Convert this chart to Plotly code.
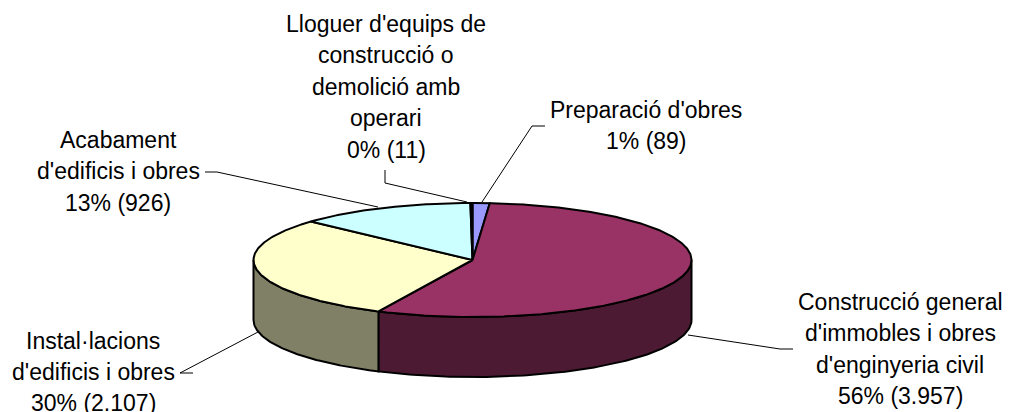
import numpy as np
import plotly.graph_objects as go

# Data
categories = ["Preparació d'obres",
              "Construcció general d'immobles i obres d'enginyeria civil",
              "Instal·lacions d'edificis i obres",
              "Acabament d'edificis i obres",
              "Lloguer d'equips de construcció o demolició amb operari"]
values = [89, 3957, 2107, 926, 11]
top_colors = ["#9999FF", "#993366", "#FFFFCC", "#CCFFFF", "#660066"]
side_colors = ["#4D4D80", "#4D1A33", "#808066", "#668080", "#330033"]

label_lines = [
    ["Preparació d'obres", "1% (89)"],
    ["Construcció general", "d'immobles i obres", "d'enginyeria civil", "56% (3.957)"],
    ["Instal·lacions", "d'edificis i obres", "30% (2.107)"],
    ["Acabament", "d'edificis i obres", "13% (926)"],
    ["Lloguer d'equips de", "construcció o", "demolició amb", "operari", "0% (11)"],
]
label_centers_x = [646, 900, 93, 118, 386]
label_first_y = [110, 302, 340.5, 140, 24]
line_gap = 31.4
leader_x = [[545, 532, 482], [793, 780, 688], [193, 180, 258], [205, 217, 378], [385, 385, 467]]
leader_y = [[126, 126, 202], [349, 349, 335], [373, 373, 332], [172, 172, 207], [170, 183, 202]]

# Pie geometry
cx, cy, rx, ry, depth = 472.5, 260, 219, 57, 60

def pt(a, dy=0.0):
    a = np.radians(a)
    return cx + rx * np.sin(a), cy - ry * np.cos(a) + dy

edges = np.concatenate([[0], np.cumsum(values)]) / sum(values) * 360
fig = go.Figure()

# side wall: only the front half (90..270 degrees clockwise from the top)
for i, (a0, a1) in enumerate(zip(edges[:-1], edges[1:])):
    lo, hi = max(a0, 90), min(a1, 270)
    if hi <= lo:
        continue
    t = np.linspace(lo, hi, 120)
    x1, y1 = pt(t)
    x2, y2 = pt(t[::-1], depth)
    fig.add_trace(go.Scatter(x=np.r_[x1, x2, x1[0]], y=np.r_[y1, y2, y1[0]], mode="lines",
                             fill="toself", fillcolor=side_colors[i],
                             line=dict(color="black", width=2), hoverinfo="skip", showlegend=False))

# top wedges
for i, (a0, a1) in enumerate(zip(edges[:-1], edges[1:])):
    t = np.linspace(a0, a1, max(int((a1 - a0) * 2), 4))
    x, y = pt(t)
    fig.add_trace(go.Scatter(x=np.r_[cx, x, cx], y=np.r_[cy, y, cy], mode="lines",
                             fill="toself", fillcolor=top_colors[i],
                             line=dict(color="black", width=2), name=categories[i],
                             hoverinfo="name", showlegend=False))

# leader lines
for lx, ly in zip(leader_x, leader_y):
    fig.add_trace(go.Scatter(x=lx, y=ly, mode="lines", line=dict(color="black", width=1),
                             hoverinfo="skip", showlegend=False))

# labels
for lines, x0, y0 in zip(label_lines, label_centers_x, label_first_y):
    for k, s in enumerate(lines):
        fig.add_annotation(x=x0, y=y0 + k * line_gap, text=s, showarrow=False,
                           xanchor="center", yanchor="middle",
                           font=dict(family="Liberation Sans, Arial, sans-serif", size=23, color="black"))

fig.update_layout(width=1010, height=412, margin=dict(l=0, r=0, t=0, b=0),
                  paper_bgcolor="white", plot_bgcolor="white",
                  xaxis=dict(range=[0, 1010], visible=False, fixedrange=True),
                  yaxis=dict(range=[412, 0], visible=False, fixedrange=True))
fig.write_html("out.html", config={"displayModeBar": False},
               post_script="document.body.style.margin='0';document.documentElement.style.overflow='hidden';")
